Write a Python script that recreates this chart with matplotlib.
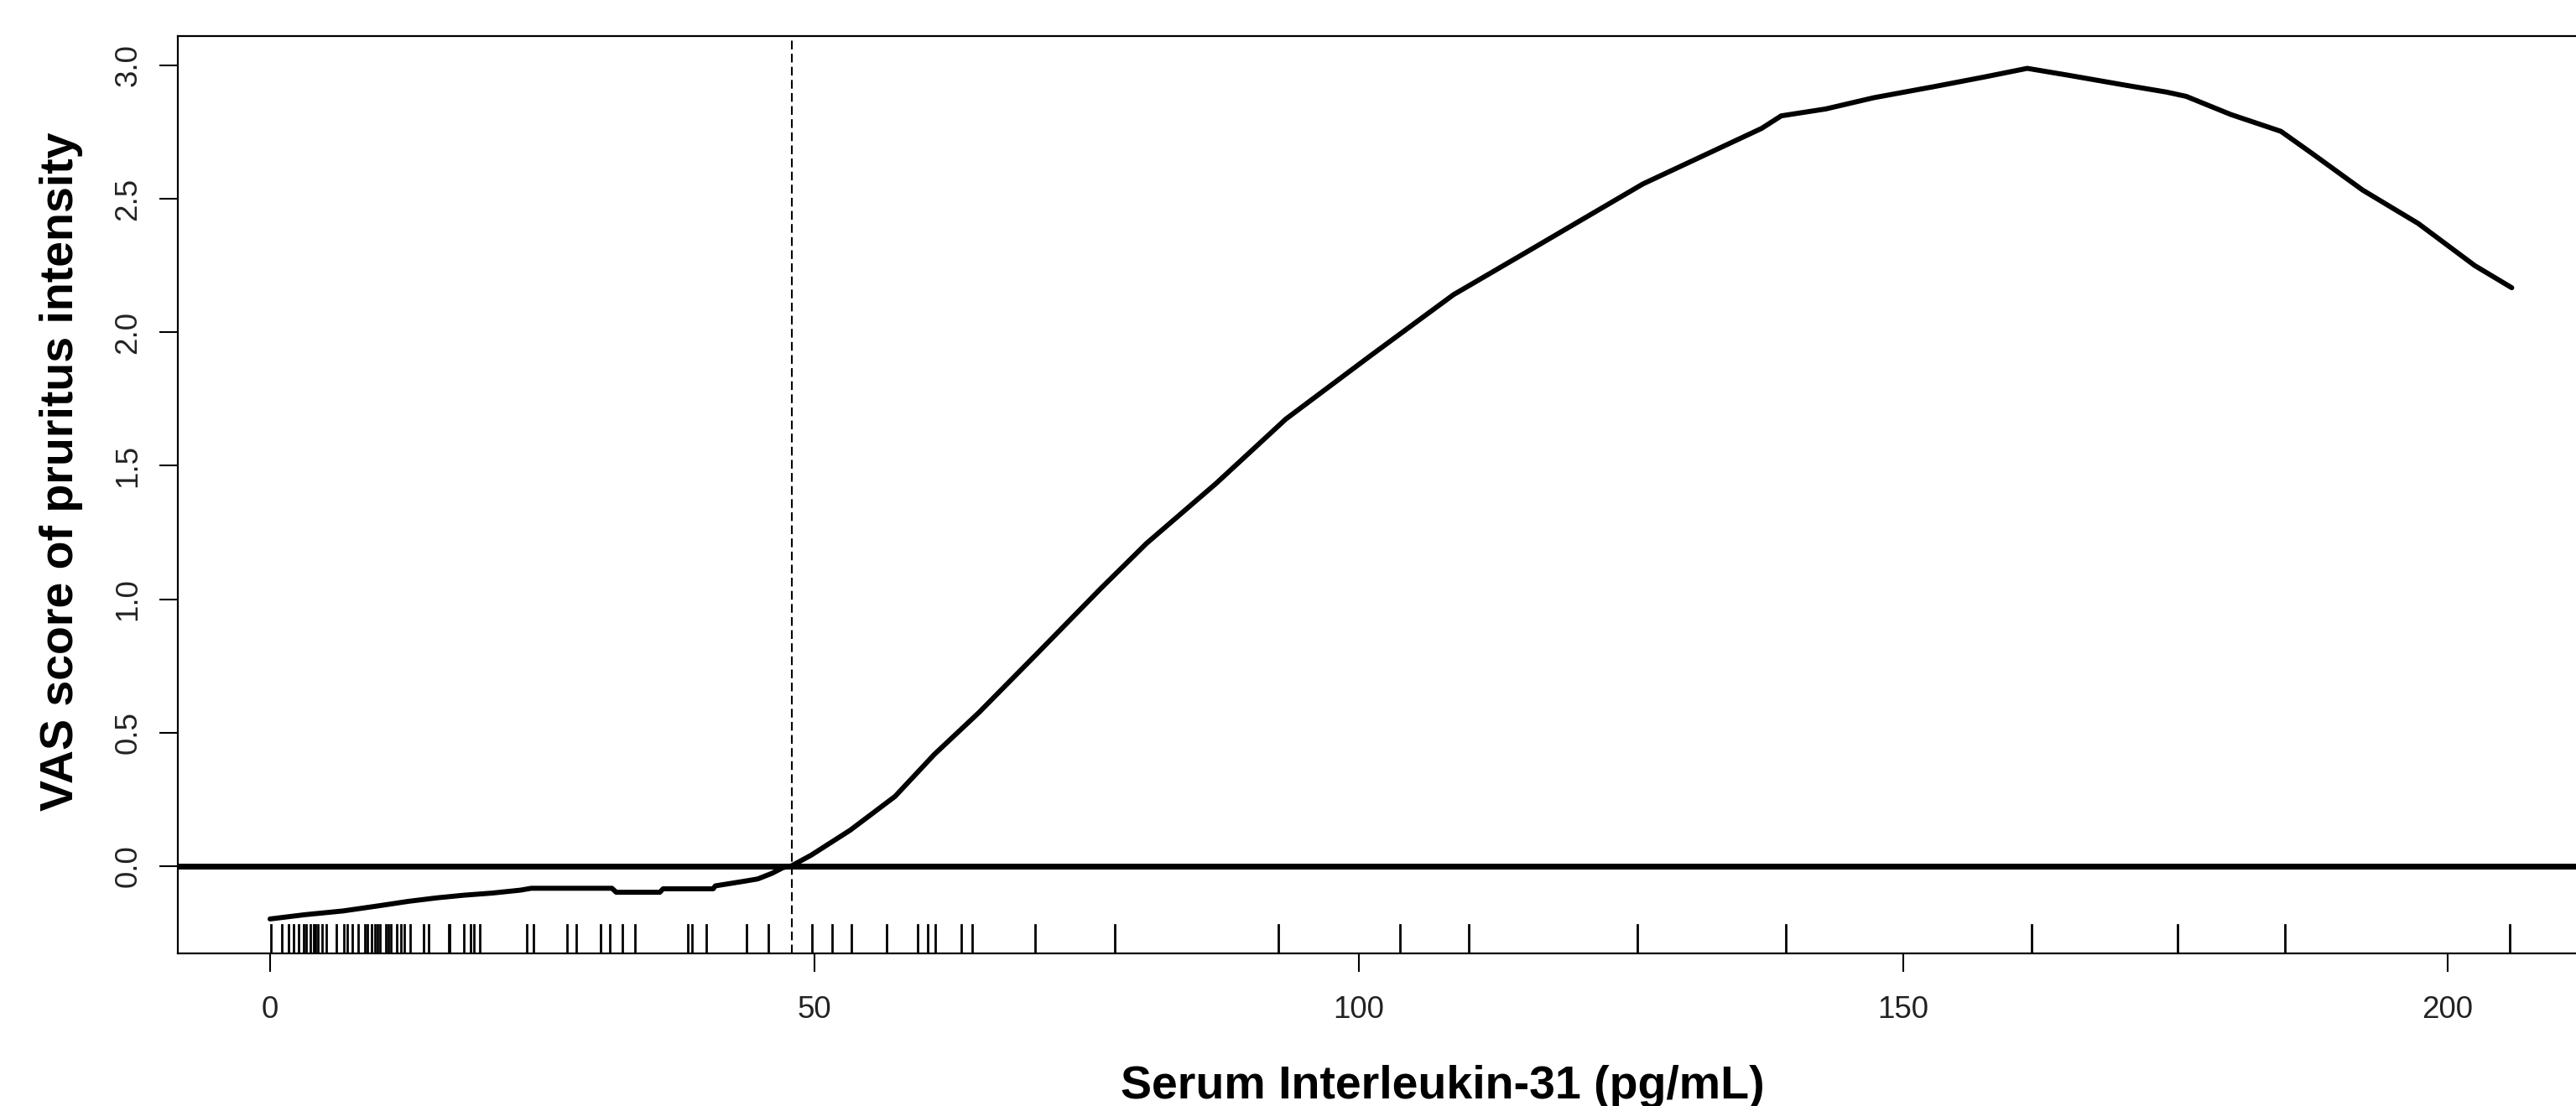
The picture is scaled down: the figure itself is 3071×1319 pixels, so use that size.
import matplotlib
matplotlib.use("Agg")
from matplotlib import pyplot as plt

plt.rcParams['font.family'] = ['Liberation Sans', 'DejaVu Sans']

# smoothed VAS curve
il31 = [0.0, 3.2, 6.7, 7.55, 10.1, 12.7, 15.3, 17.8, 20.4, 23.0, 24.0, 31.4, 31.8,
        35.8, 36.1, 40.7, 40.9, 43.5, 44.8, 46.1, 47.1, 47.9, 49.7, 53.3, 57.4,
        61.0, 65.1, 70.3, 76.3, 80.5, 86.9, 93.3, 101.0, 108.7, 115.3, 126.1,
        137.0, 138.8, 142.9, 147.3, 152.9, 157.5, 161.4, 165.2, 170.4, 174.2,
        176.0, 180.1, 184.7, 187.6, 192.2, 197.3, 202.5, 205.9]
vas = [-0.198, -0.182, -0.168, -0.163, -0.148, -0.132, -0.119, -0.109, -0.101,
       -0.090, -0.083, -0.083, -0.098, -0.098, -0.085, -0.085, -0.074, -0.057,
       -0.048, -0.027, -0.006, 0.001, 0.041, 0.135, 0.261, 0.418, 0.575, 0.79,
       1.04, 1.209, 1.434, 1.675, 1.910, 2.141, 2.298, 2.556, 2.764, 2.811,
       2.837, 2.879, 2.921, 2.957, 2.989, 2.963, 2.926, 2.900, 2.884, 2.816,
       2.753, 2.669, 2.533, 2.408, 2.250, 2.167]

# observed IL-31 values (rug)
rug = [0.1, 1.1, 1.7, 2.2, 2.6, 3.1, 3.3, 3.7, 4.0, 4.2, 4.4, 4.8, 5.2, 6.1, 6.8,
       7.1, 7.55, 8.06, 8.7, 8.97, 9.3, 9.6, 9.86, 10.1, 10.6, 10.9, 11.1, 11.66,
       12.05, 12.3, 12.9, 14.1, 14.6, 16.4, 16.5, 17.8, 18.45, 18.7, 19.3, 23.6,
       24.2, 27.3, 28.1, 30.35, 31.2, 32.4, 33.5, 38.4, 38.75, 40.1, 43.8, 45.8,
       49.8, 51.6, 53.4, 56.6, 59.5, 60.4, 61.1, 63.5, 64.5, 70.3, 77.6, 92.6,
       103.8, 110.1, 125.6, 139.2, 161.8, 175.2, 185.1, 205.7]

cutoff = 47.95
xticks = [0, 50, 100, 150, 200]
yticks = [0.0, 0.5, 1.0, 1.5, 2.0, 2.5, 3.0]

fig = plt.figure(figsize=(30.71, 13.19), dpi=100)
ax = fig.add_axes([212 / 3071, 1 - 1137 / 1319, 1 - 212 / 3071, (1137 - 43) / 1319])

ax.plot(il31, vas, color='black', lw=4.3, solid_capstyle='round', solid_joinstyle='round')
ax.axhline(0, color='black', lw=5)
ax.axvline(cutoff, color='black', lw=1.5, linestyle=(0, (5, 2.5)))
for r in rug:
    ax.axvline(r, ymin=0, ymax=0.031, color='black', lw=2.0)

ax.set_xlim(-8.47, 211.8)
ax.set_ylim(-0.327, 3.11)
ax.set_xticks(xticks)
ax.set_xticklabels([str(t) for t in xticks])
ax.set_yticks(yticks)
ax.set_yticklabels(['%.1f' % t for t in yticks])

for s in ['left', 'top', 'bottom']:
    ax.spines[s].set_linewidth(1.6)
ax.spines['right'].set_visible(False)

ax.tick_params(axis='both', length=16, width=1.5, labelsize=26.5, labelcolor='#222222')
ax.tick_params(axis='x', pad=20)
ax.tick_params(axis='y', pad=14, labelrotation=90)
for lab in ax.get_yticklabels():
    lab.set_va('center')

fig.text(1720 / 3071, 1 - 1310 / 1319, 'Serum Interleukin-31 (pg/mL)',
         ha='center', va='baseline', fontsize=40, fontweight='bold')
fig.text(87 / 3071, 1 - 562 / 1319, 'VAS score of pruritus intensity',
         ha='center', va='baseline', rotation=90, rotation_mode='anchor',
         fontsize=40, fontweight='bold')

fig.savefig('out.png', dpi=100)
